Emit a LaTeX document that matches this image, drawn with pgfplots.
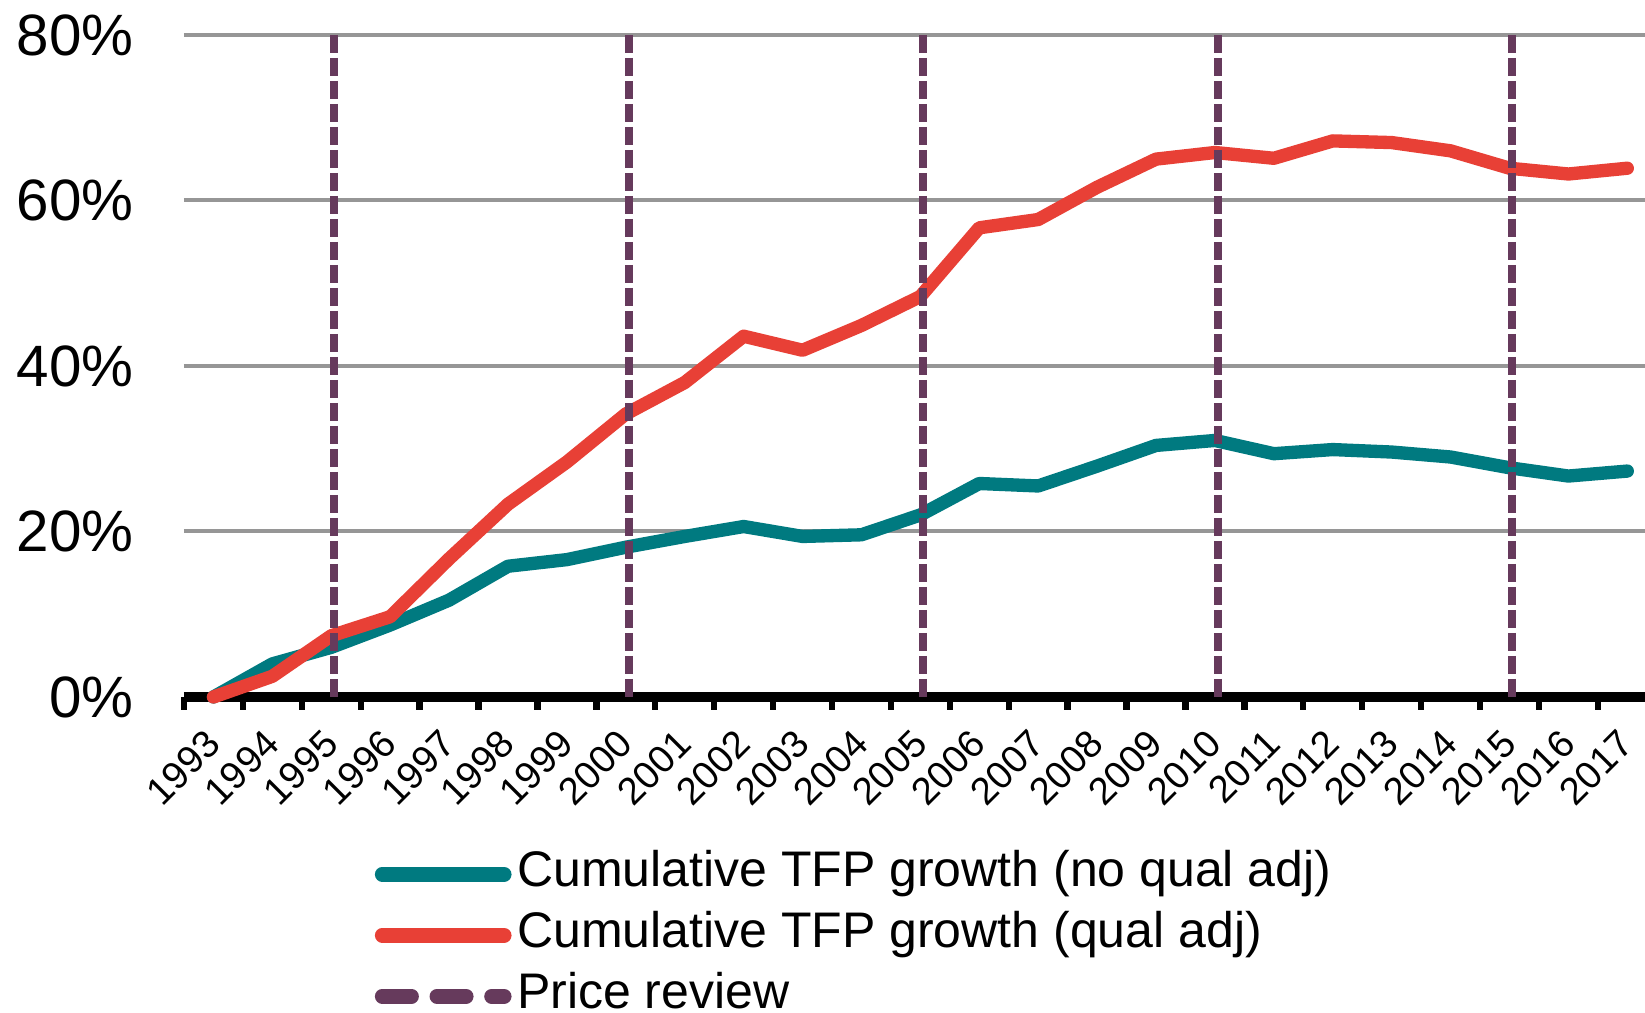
\documentclass[border=0pt]{standalone}
\usepackage{pgfplots}
\pgfplotsset{compat=1.18}
\usepackage{fontspec}
\setmainfont{Liberation Sans}
\definecolor{tealc}{RGB}{0,122,128}
\definecolor{redc}{RGB}{232,64,54}
\definecolor{purp}{RGB}{102,58,92}
\definecolor{gridg}{RGB}{150,150,150}
\begin{document}
\begin{tikzpicture}
\begin{axis}[
  at={(0,0)}, anchor=south west,
  width=438.3pt, height=198.6pt, scale only axis,
  xmin=1992.5, xmax=2017.3, ymin=0, ymax=80,
  clip=false,
  axis x line*=bottom, axis y line*=left,
  y axis line style={draw=none},
  x axis line style={black, line width=3.1pt},
  /pgf/number format/assume math mode=true,
  /pgf/number format/1000 sep={},
  xtick={1993,...,2017},
  minor xtick={1992.5,1993.5,...,2016.5},
  tick align=outside,
  major tick length=0pt,
  minor tick length=3.8pt,
  major x tick style={draw=none},
  minor x tick style={black, line width=1.9pt},
  xticklabel style={font=\fontsize{11.5}{11.5}\selectfont, rotate=45, anchor=east, inner sep=0pt},
  xticklabel shift=12pt,
  ytick={0,20,40,60,80},
  ytick style={draw=none},
  yticklabel={\pgfmathprintnumber{\tick}\%},
  yticklabel style={font=\fontsize{17.5}{17.5}\selectfont, anchor=east, inner sep=0pt, xshift=-15pt},
  ymajorgrids,
  major grid style={gridg, line width=1.2pt},
  legend style={at={(axis description cs:0.1261,-0.2313)}, anchor=north west,
    draw=none, fill=none, inner sep=0pt, outer sep=0pt,
    font=\fontsize{15}{15}\selectfont, row sep=3.8pt, column sep=0pt,
    nodes={inner sep=0pt, text height=11pt, text depth=3.5pt}},
  legend cell align=left,
  legend image code/.code={\draw[#1, line width=4.4pt, line cap=round] (2.2pt,0pt) -- (38.8pt,0pt); \path (0pt,0pt) (40.7pt,0pt);},
]
\addplot[tealc, line width=4pt, line join=round, line cap=round] coordinates {
(1993,0) (1994,4.0) (1995,6.0) (1996,8.7) (1997,11.7) (1998,15.8) (1999,16.6) (2000,18.1)
(2001,19.4) (2002,20.6) (2003,19.4) (2004,19.6) (2005,22.0) (2006,25.8) (2007,25.5)
(2008,27.9) (2009,30.4) (2010,31.0) (2011,29.4) (2012,29.9) (2013,29.6) (2014,29.0)
(2015,27.7) (2016,26.7) (2017,27.3)};
\addlegendentry{Cumulative TFP growth (no qual adj)}
\addplot[redc, line width=4pt, line join=round, line cap=round] coordinates {
(1993,0) (1994,2.5) (1995,7.4) (1996,9.7) (1997,16.7) (1998,23.3) (1999,28.4) (2000,34.2)
(2001,38.0) (2002,43.6) (2003,41.9) (2004,44.9) (2005,48.4) (2006,56.7) (2007,57.7)
(2008,61.6) (2009,65.0) (2010,65.8) (2011,65.1) (2012,67.2) (2013,67.0) (2014,66.0)
(2015,63.9) (2016,63.2) (2017,63.9)};
\addlegendentry{Cumulative TFP growth (qual adj)}
\addplot[purp, line width=2.4pt, dash pattern=on 5.5pt off 1.4pt, unbounded coords=jump,
  legend image code/.code={\draw[purp, line width=4.4pt, line cap=round, dash pattern=on 8.8pt off 7.6pt] (2.2pt,0pt) -- (38.8pt,0pt); \path (0pt,0pt) (40.7pt,0pt);}]
 coordinates {
(1995.05,80) (1995.05,0) (1995.05,nan)
(2000.05,80) (2000.05,0) (2000.05,nan)
(2005.05,80) (2005.05,0) (2005.05,nan)
(2010.05,80) (2010.05,0) (2010.05,nan)
(2015.05,80) (2015.05,0)};
\addlegendentry{Price review}
\end{axis}
\pgfresetboundingbox
\path (-55.2pt,-94.8pt) rectangle (438.3pt,209.1pt);
\end{tikzpicture}
\end{document}
